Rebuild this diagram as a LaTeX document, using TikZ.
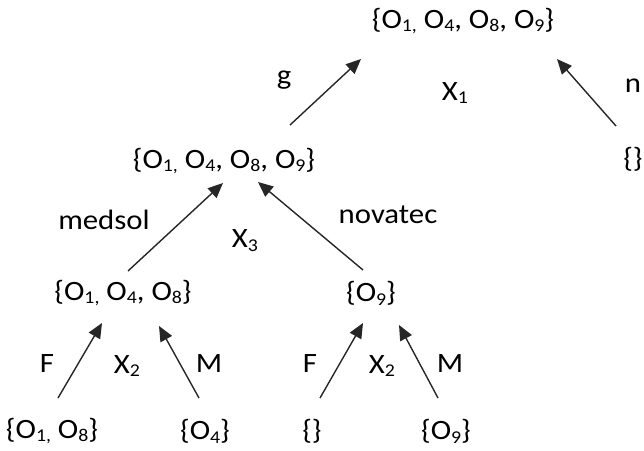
\documentclass[tikz,border=0pt]{standalone}
\usepackage{fontspec}
\setmainfont{Carlito}[FakeStretch=1.1]
\usetikzlibrary{arrows.meta}
\newcommand\sbs[1]{\raisebox{-0.14em}{\fontsize{18}{20}\selectfont #1}}
\begin{document}
\begin{tikzpicture}[x=1pt,y=-1pt,
  every node/.style={inner sep=0pt,outer sep=0pt,font=\fontsize{28}{32}\selectfont,text=black},
  arr/.style={draw=black!85,line width=1.4pt,-{Triangle[length=15pt,width=13pt]}}]
\useasboundingbox (0,0) rectangle (644,450);
% set nodes
\node (T)  at (463,21)  {\{O\sbs{1,} O\sbs{4}, O\sbs{8}, O\sbs{9}\}};
\node (E)  at (633,159) {\{\}};
\node (L1) at (224,161) {\{O\sbs{1,} O\sbs{4}, O\sbs{8}, O\sbs{9}\}};
\node (A)  at (123,293) {\{O\sbs{1,} O\sbs{4}, O\sbs{8}\}};
\node (B)  at (371,293) {\{O\sbs{9}\}};
\node (b1) at (52,431)  {\{O\sbs{1,} O\sbs{8}\}};
\node (b2) at (205,431) {\{O\sbs{4}\}};
\node (b3) at (312,431) {\{\}};
\node (b4) at (446,431) {\{O\sbs{9}\}};
% labels
\node (lg)  at (284,80)  {g};
\node (ln)  at (633,86)  {n};
\node (lx1) at (455,93)  {X\sbs{1}};
\node (lme) at (104,220) {medsol};
\node (lx3) at (245,241) {X\sbs{3}};
\node (lno) at (388,215) {novatec};
\node (lf1) at (47,364)  {F};
\node (lxa) at (127,366) {X\sbs{2}};
\node (lm1) at (209,364) {M};
\node (lf2) at (310,364) {F};
\node (lxb) at (382,366) {X\sbs{2}};
\node (lm2) at (450,364) {M};
% connectors
\draw[arr] ([shift={(66,-36)}]L1.center) -- ([shift={(-102,38)}]T.center);
\draw[arr] ([shift={(-17,-33)}]E.center) -- ([shift={(94,38)}]T.center);
\draw[arr] ([shift={(5,-22)}]A.center) -- ([shift={(-1,22)}]L1.center);
\draw[arr] ([shift={(-8,-23)}]B.center) -- ([shift={(34,21)}]L1.center);
\draw[arr] ([shift={(6,-33)}]b1.center) -- ([shift={(-21,30)}]A.center);
\draw[arr] ([shift={(-6,-33)}]b2.center) -- ([shift={(36,33)}]A.center);
\draw[arr] ([shift={(8,-33)}]b3.center) -- ([shift={(-8,30)}]B.center);
\draw[arr] ([shift={(-8,-33)}]b4.center) -- ([shift={(28,32)}]B.center);
\end{tikzpicture}
\end{document}
